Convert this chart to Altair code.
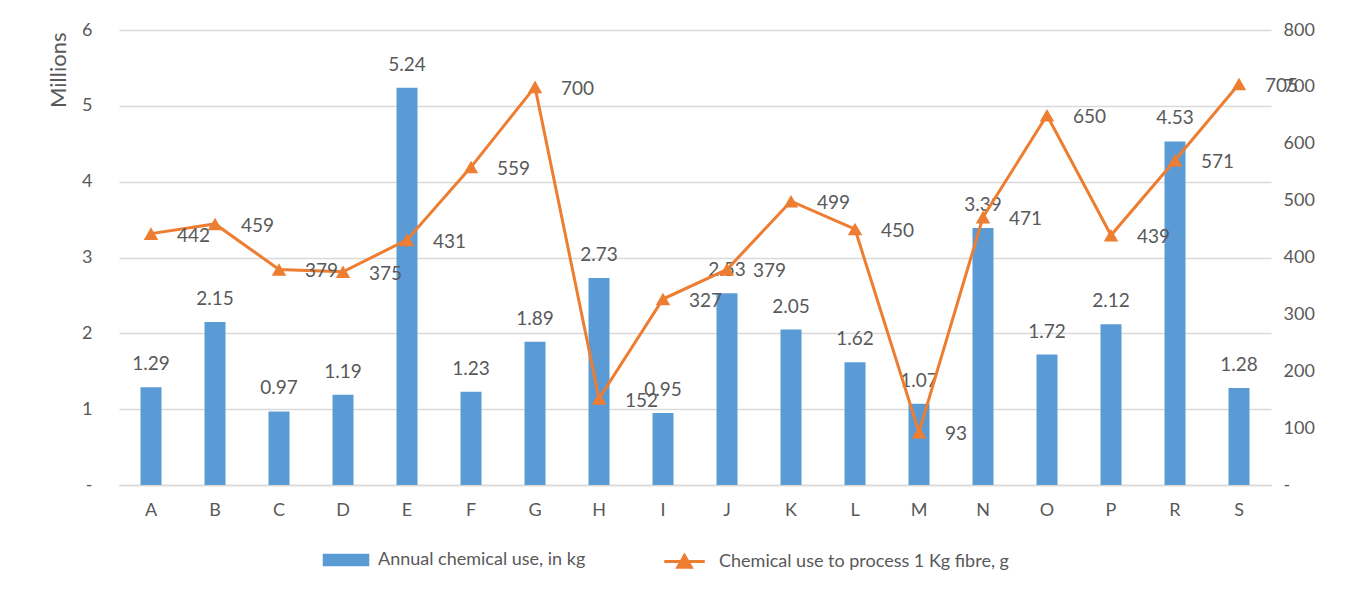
import altair as alt
import pandas as pd

categories = ["A", "B", "C", "D", "E", "F", "G", "H", "I", "J", "K", "L", "M", "N", "O", "P", "R", "S"]
annual_use_millions = [1.29, 2.15, 0.97, 1.19, 5.24, 1.23, 1.89, 2.73, 0.95, 2.53, 2.05, 1.62, 1.07, 3.39, 1.72, 2.12, 4.53, 1.28]
use_per_kg_g = [442, 459, 379, 375, 431, 559, 700, 152, 327, 379, 499, 450, 93, 471, 650, 439, 571, 705]

bar_name = "Annual chemical use, in kg"
line_name = "Chemical use to process 1 Kg fibre, g"

BLUE = "#5B9BD5"
ORANGE = "#ED7D31"
TXT = "#595959"
FONT = "Lato"

df = pd.DataFrame({
    "cat": categories,
    "annual": annual_use_millions,
    "perkg": use_per_kg_g,
    "bar_series": [bar_name] * len(categories),
    "line_series": [line_name] * len(categories),
})

x_axis = alt.Axis(labelAngle=0, ticks=False, labelPadding=16, labelFontSize=18,
                  labelColor=TXT, labelFont=FONT, domainColor="#d9d9d9", domainWidth=1.5,
                  grid=False, title=None)
x_scale = alt.Scale(paddingInner=0, paddingOuter=0)

def xenc():
    return alt.X("cat:N", sort=categories, title=None, scale=x_scale, axis=x_axis)

left_axis = alt.Axis(values=[0, 1, 2, 3, 4, 5, 6], format="d", title="Millions", titleFontSize=22,
                     titleFontWeight="normal", titleColor=TXT, titleFont=FONT,
                     titleAngle=-90, titleX=-61, titleY=2,
                     titleBaseline="middle", titleAlign="right",
                     labelExpr="datum.value == 0 ? '-' : datum.label",
                     labelFontSize=18, labelColor=TXT, labelFont=FONT, labelPadding=27,
                     ticks=False, domain=False, grid=True, gridColor="#d9d9d9",
                     gridWidth=1.3)
left_scale = alt.Scale(domain=[0, 6], nice=False)

right_axis = alt.Axis(orient="right", values=[0, 100, 200, 300, 400, 500, 600, 700, 800],
                      format="d", title=None, labelExpr="datum.value == 0 ? '-' : datum.label",
                      labelFontSize=18, labelColor=TXT, labelFont=FONT, labelPadding=12,
                      ticks=False, domain=False, grid=False)
right_scale = alt.Scale(domain=[0, 800], nice=False)

base = alt.Chart(df)

bars = base.mark_bar(size=21).encode(
    x=xenc(),
    y=alt.Y("annual:Q", title="Millions", scale=left_scale, axis=left_axis),
    fill=alt.Fill("bar_series:N", scale=alt.Scale(domain=[bar_name], range=[BLUE]),
                  legend=alt.Legend(title=None, orient="none", legendX=212, legendY=515,
                                    symbolType="M-1.55,-0.42H1.55V0.42H-1.55Z", symbolSize=900,
                                    symbolStrokeWidth=0, labelFontSize=18, labelColor=TXT,
                                    labelFont=FONT, labelOffset=17, padding=0, labelLimit=500)),
)

bar_labels = base.mark_text(fontSize=19, font=FONT, color=TXT, baseline="middle", dy=-23).encode(
    x=xenc(),
    y=alt.Y("annual:Q", title="Millions", scale=left_scale, axis=left_axis),
    text=alt.Text("annual:Q", format=".2f"),
)

left = alt.layer(bars, bar_labels)

def yline():
    return alt.Y("perkg:Q", title=None, scale=right_scale, axis=right_axis)

line = base.mark_line(strokeWidth=3).encode(
    x=xenc(),
    y=yline(),
    stroke=alt.Stroke("line_series:N", scale=alt.Scale(domain=[line_name], range=[ORANGE]),
                      legend=alt.Legend(title=None, orient="none", legendX=549, legendY=515,
                                        symbolType="M-1.35,0H1.35M-0.45,0.38L0,-0.4L0.45,0.38Z",
                                        symbolSize=900, symbolStrokeWidth=3,
                                        symbolFillColor=ORANGE, labelFontSize=18,
                                        labelColor=TXT, labelFont=FONT, labelOffset=18,
                                        padding=0, labelLimit=500)),
)

points = base.mark_point(shape="triangle-up", filled=True, size=210, color=ORANGE, opacity=1).encode(
    x=xenc(),
    y=yline(),
)

line_labels = base.mark_text(fontSize=19, font=FONT, color=TXT, align="left", baseline="middle",
                             dx=26, dy=2).encode(
    x=xenc(),
    y=yline(),
    text=alt.Text("perkg:Q", format="d"),
)

right = alt.layer(line, points, line_labels)

chart = alt.layer(left, right).resolve_scale(y="independent").properties(
    width=1152, height=455,
    autosize=alt.AutoSizeParams(type="none"),
    padding={"left": 111, "top": 22, "right": 70, "bottom": 100},
    background="white",
).configure_view(stroke=None)

chart.save("out.html", embed_options={"renderer": "svg", "actions": False})
